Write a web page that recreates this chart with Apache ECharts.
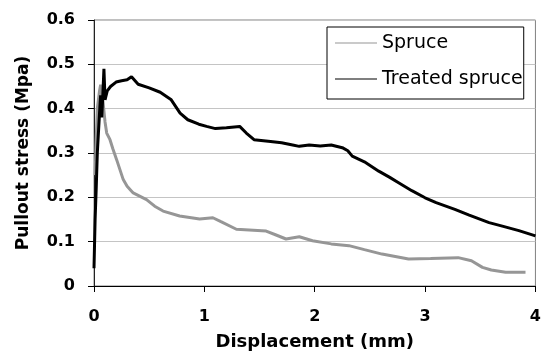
<!DOCTYPE html>
<html>
<head>
<meta charset="utf-8">
<script src="https://cdn.jsdelivr.net/npm/echarts@6/dist/echarts.min.js"></script>
<style>
    html, body { margin: 0; padding: 0; background: #fff; }
    #chart { width: 544px; height: 356px; }
</style>
</head>
<body>
<div id="chart"></div>
<script>
// [displacement mm, stress MPa]
const spruce = [
    [0.01, 0.25], [0.02, 0.33], [0.03, 0.40], [0.05, 0.44], [0.06, 0.454], [0.08, 0.42],
    [0.1, 0.37], [0.115, 0.345], [0.145, 0.33], [0.17, 0.31], [0.205, 0.285], [0.265, 0.24],
    [0.3, 0.225], [0.355, 0.21], [0.476, 0.195], [0.55, 0.18], [0.626, 0.169], [0.776, 0.158],
    [0.957, 0.151], [1.077, 0.154], [1.15, 0.145], [1.29, 0.128], [1.56, 0.124], [1.65, 0.115],
    [1.74, 0.106], [1.86, 0.111], [1.98, 0.102], [2.15, 0.095], [2.31, 0.091], [2.45, 0.082],
    [2.61, 0.072], [2.85, 0.061], [3.05, 0.062], [3.3, 0.064], [3.42, 0.057], [3.52, 0.042],
    [3.6, 0.036], [3.73, 0.031], [3.91, 0.031]
]
const treatedSpruce = [
    [0, 0.04], [0.01, 0.15], [0.02, 0.22], [0.03, 0.30], [0.05, 0.39], [0.06, 0.43],
    [0.07, 0.38], [0.08, 0.43], [0.09, 0.49], [0.10, 0.42], [0.12, 0.44], [0.15, 0.45],
    [0.2, 0.46], [0.25, 0.463], [0.3, 0.465], [0.34, 0.472], [0.4, 0.455], [0.5, 0.447],
    [0.6, 0.437], [0.7, 0.42], [0.78, 0.39], [0.85, 0.375], [0.95, 0.365], [1.02, 0.36],
    [1.1, 0.355], [1.2, 0.357], [1.32, 0.36], [1.38, 0.345], [1.45, 0.33], [1.6, 0.326],
    [1.7, 0.323], [1.8, 0.318], [1.86, 0.315], [1.95, 0.318], [2.05, 0.316], [2.15, 0.318],
    [2.25, 0.312], [2.3, 0.305], [2.34, 0.293], [2.45, 0.28], [2.58, 0.259], [2.68, 0.245],
    [2.76, 0.233], [2.88, 0.215], [3.0, 0.199], [3.1, 0.188], [3.27, 0.173], [3.4, 0.16],
    [3.58, 0.143], [3.7, 0.135], [3.85, 0.125], [4.0, 0.113]
]
const seriesNames = ['Spruce', 'Treated spruce']
const xTicks = [0, 1, 2, 3, 4]
const yTicks = [0, 0.1, 0.2, 0.3, 0.4, 0.5, 0.6]

const chart = echarts.init(document.getElementById('chart'))
const font = 'DejaVu Sans'
chart.setOption({
    animation: false,
    grid: {
        left: 94,
        right: 7,
        top: 20,
        bottom: 69,
        show: true,
        borderColor: '#808080',
        borderWidth: 1
    },
    legend: {
        left: 327,
        top: 27,
        orient: 'vertical',
        data: seriesNames,
        icon: 'rect',
        itemWidth: 42,
        itemHeight: 1,
        itemGap: 16,
        padding: [6, 1, 10, 8],
        borderColor: '#000',
        borderWidth: 1,
        backgroundColor: '#fff',
        textStyle: {
            fontFamily: font,
            fontSize: 19,
            color: '#000',
            lineHeight: 20,
            padding: [0, 0, 0, 0]
        }
    },
    xAxis: {
        type: 'value',
        min: xTicks[0],
        max: xTicks[xTicks.length - 1],
        interval: 1,
        name: 'Displacement (mm)',
        nameLocation: 'middle',
        nameGap: 47,
        nameTextStyle: { fontFamily: font, fontSize: 18, fontWeight: 'bold', color: '#000' },
        axisLine: { show: true, lineStyle: { color: '#000', width: 1 } },
        axisTick: { show: true, inside: false, length: 6, lineStyle: { color: '#000' } },
        axisLabel: { margin: 23, fontFamily: font, fontSize: 16, fontWeight: 'bold', color: '#000' },
        splitLine: { show: false }
    },
    yAxis: {
        type: 'value',
        min: yTicks[0],
        max: yTicks[yTicks.length - 1],
        interval: 0.1,
        name: 'Pullout stress (Mpa)',
        nameLocation: 'middle',
        nameGap: 62,
        nameTextStyle: { fontFamily: font, fontSize: 17, fontWeight: 'bold', color: '#000' },
        axisLine: { show: true, lineStyle: { color: '#222', width: 1 } },
        axisTick: { show: true, inside: false, length: 6, lineStyle: { color: '#000' } },
        axisLabel: {
            margin: 19,
            fontFamily: font,
            fontSize: 16,
            fontWeight: 'bold',
            color: '#000',
            formatter: v => (v === 0 ? '0' : v.toFixed(1))
        },
        splitLine: { show: true, lineStyle: { color: '#c4c4c4', width: 1 } }
    },
    series: [
        {
            name: seriesNames[0],
            type: 'line',
            data: spruce,
            showSymbol: false,
            symbol: 'none',
            color: '#969696',
            lineStyle: { color: '#969696', width: 3 },
            z: 2
        },
        {
            name: seriesNames[1],
            type: 'line',
            data: treatedSpruce,
            showSymbol: false,
            symbol: 'none',
            color: '#000',
            lineStyle: { color: '#000', width: 3 },
            z: 3
        }
    ]
})
</script>
</body>
</html>
